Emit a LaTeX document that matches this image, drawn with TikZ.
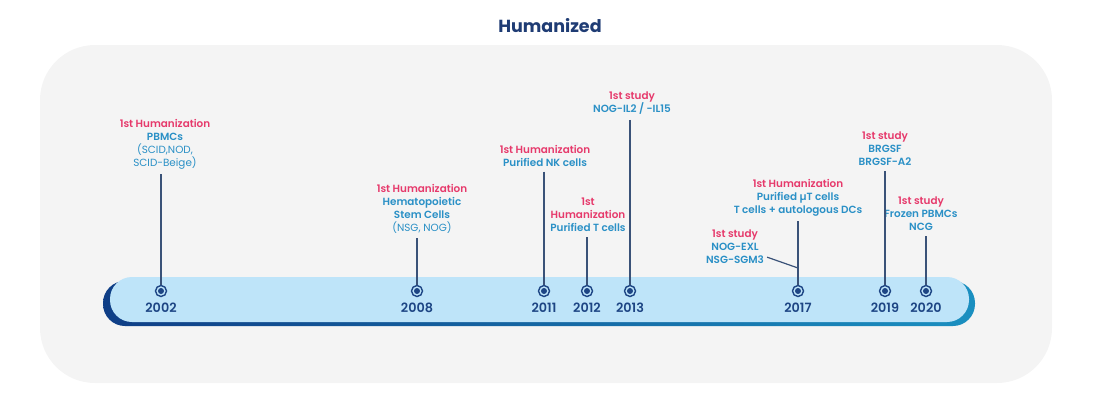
\documentclass[tikz,border=0pt]{standalone}
\usepackage{fontspec}
\setmainfont{Poppins}
\newfontfamily\psemi{Poppins SemiBold}
\newfontfamily\pbold{Poppins Bold}
\usetikzlibrary{calc}
\definecolor{bggray}{HTML}{F4F4F4}
\definecolor{titleblue}{HTML}{1F3C74}
\definecolor{tpink}{HTML}{E6396B}
\definecolor{tblue}{HTML}{2A90C6}
\definecolor{ynavy}{HTML}{1D4584}
\definecolor{lgray}{HTML}{3A5278}
\definecolor{barlight}{HTML}{BEE4F9}
\definecolor{barnavy}{HTML}{0F3E86}
\definecolor{barteal}{HTML}{1A8FC0}
\newcommand\tpk[1]{\textcolor{tpink}{#1}}
\newcommand\tbl[1]{\textcolor{tblue}{#1}}
\newcommand\trg[1]{\textcolor{tblue}{\normalfont\fontsize{10.4}{13}\selectfont #1}}
\begin{document}
\begin{tikzpicture}[x=1pt,y=-1pt,
  lbl/.style={align=center,inner sep=0pt,anchor=north,font=\psemi\fontsize{10.4}{13}\selectfont},
  marker/.style={circle,draw=ynavy,line width=1.4pt,minimum size=11pt,inner sep=0pt},
  year/.style={text=ynavy,font=\psemi\fontsize{12.8}{14}\selectfont,inner sep=0pt},
  conn/.style={draw=lgray,line width=1.6pt}]
\useasboundingbox (0,0) rectangle (1100,408);
\fill[bggray, rounded corners=55pt] (40,45) rectangle (1052,383);
\node[font=\pbold\fontsize{17.5}{20}\selectfont, text=titleblue] (title) at (550,26) {Humanized};
% bar
\shade[left color=barnavy,right color=barteal, rounded corners=22pt] (103,281) rectangle (975,326);
\fill[barlight, rounded corners=22pt] (110,277) rectangle (969,322);
% markers and years
\foreach \x/\yr in {161/2002,417/2008,544/2011,587/2012,630/2013,798/2017,885/2019,926/2020}{
  \node[marker] (m\yr) at (\x,291) {};
  \fill[ynavy] (m\yr.center) circle (3);
  \node[year] (y\yr) at (\x,308) {\yr};
}
% texts
\node[lbl] (t2002) at (165,119) {\tpk{1st Humanization}\\\tbl{PBMCs}\\\trg{(SCID,NOD,}\\\trg{SCID-Beige)}};
\node[lbl] (t2008) at (422,184) {\tpk{1st Humanization}\\\tbl{Hematopoietic}\\\tbl{Stem Cells}\\\trg{(NSG, NOG)}};
\node[lbl] (t2011) at (545,145) {\tpk{1st Humanization}\\\tbl{Purified NK cells}};
\node[lbl] (t2012) at (588,198) {\tpk{1st}\\\tpk{Humanization}\\\tbl{Purified T cells}};
\node[lbl] (t2013) at (632,92) {\tpk{1st study}\\\tbl{NOG-IL2 / -IL15}};
\node[lbl] (t2017) at (798,179) {\tpk{1st Humanization}\\\tbl{Purified µT cells}\\\tbl{T cells + autologous DCs}};
\node[lbl] (t2017b) at (735,230) {\tpk{1st study}\\\tbl{NOG-EXL}\\\tbl{NSG-SGM3}};
\node[lbl] (t2019) at (885,132) {\tpk{1st study}\\\tbl{BRGSF}\\\tbl{BRGSF-A2}};
\node[lbl] (t2020) at (921,197) {\tpk{1st study}\\\tbl{Frozen PBMCs}\\\tbl{NCG}};
% connectors
\foreach \yr in {2002,2008,2011,2012,2013,2017,2019,2020}{
  \draw[conn] ($(m\yr |- t\yr.south)+(0,5)$) -- (m\yr.north);
}
\coordinate (j2017) at (798,268);
\draw[draw=lgray,line width=1.2pt] ($(t2017b.south east)+(3,-7)$) -- (j2017);
\end{tikzpicture}
\end{document}
